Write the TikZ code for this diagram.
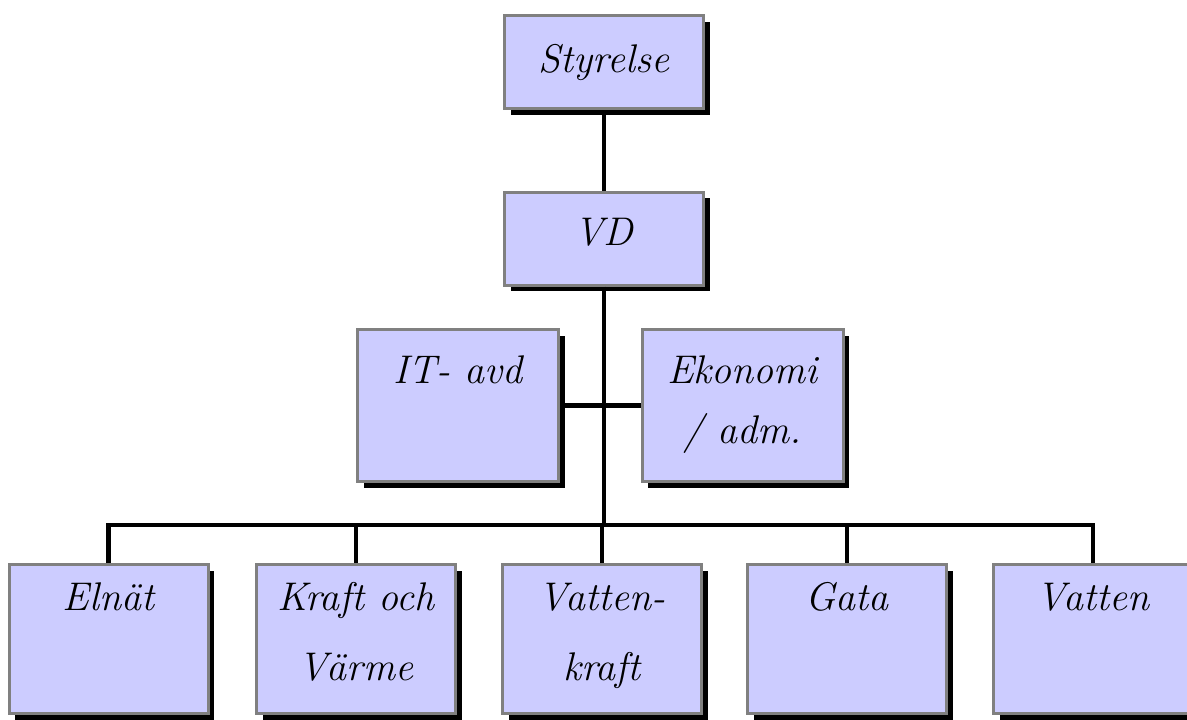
\documentclass[tikz,border=0pt]{standalone}
\usepackage{fontspec}
\usetikzlibrary{shadows}
\definecolor{boxfill}{HTML}{CCCCFF}
\definecolor{boxline}{HTML}{808080}
\tikzset{
  unitbox/.style={draw=boxline, line width=3pt, fill=boxfill, inner sep=0pt,
    minimum width=199pt,
    general shadow={fill=black, draw=none, shadow xshift=6pt, shadow yshift=-6pt}},
  smallbox/.style={unitbox, minimum height=93pt},
  midbox/.style={unitbox, minimum height=152pt, minimum width=201pt},
  lowbox/.style={unitbox, minimum height=149pt},
  lbl/.style={anchor=base, inner sep=0pt, font=\fontsize{40}{44}\selectfont\itshape},
  conn/.style={line width=4.5pt, draw=black}
}
\begin{document}
\begin{tikzpicture}[x=1pt, y=-1pt]
  \useasboundingbox (0,0) rectangle (1187,720);
  \clip (0,0) rectangle (1187,720);

  % management
  \node[smallbox] (sty) at (604,62) {};
  \node[smallbox] (vd)  at (604,238.5) {};

  % staff units
  \node[midbox] (it)  at (458,405.5) {};
  \node[midbox] (eko) at (742.5,405.5) {};

  % business units
  \node[lowbox] (elnat)  at (108.5,639) {};
  \node[lowbox] (kraft)  at (356,639) {};
  \node[lowbox] (vkraft) at (602,639) {};
  \node[lowbox] (gata)   at (847,639) {};
  \node[lowbox] (vatten) at (1093,639) {};

  % labels
  \node[lbl] (tsty)  at (sty.center |- 0,72) {Styrelse};
  \node[lbl] (tvd)   at (vd.center |- 0,245) {VD};
  \node[lbl] (tit)   at (it.center |- 0,383) {IT- avd};
  \node[lbl] (teko1) at (eko.center |- 0,383) {Ekonomi};
  \node[lbl] (teko2) at (eko.center |- 0,443) {/ adm.};
  \node[lbl] (tel)   at (elnat.center |- 0,610) {Elnät};
  \node[lbl] (tkr1)  at (kraft.center |- 0,610) {Kraft och};
  \node[lbl] (tkr2)  at (kraft.center |- 0,680) {Värme};
  \node[lbl] (tvk1)  at (vkraft.center |- 0,610) {Vatten-};
  \node[lbl] (tvk2)  at (vkraft.center |- 0,680) {kraft};
  \node[lbl] (tga)   at (gata.center |- 0,610) {Gata};
  \node[lbl] (tva)   at (vatten.center |- 0,610) {Vatten};

  % connectors
  \coordinate (bus) at (603,525);
  \draw[conn] (sty.south) -- (vd.north);
  \draw[conn] (vd.south) -- (vd.south |- bus);
  \draw[conn] (it.east) -- (eko.west);
  \draw[conn] (elnat.north) -- (elnat.north |- bus) -- (vatten.north |- bus) -- (vatten.north);
  \draw[conn] (kraft.north) -- (kraft.north |- bus);
  \draw[conn] (vkraft.north) -- (vkraft.north |- bus);
  \draw[conn] (gata.north) -- (gata.north |- bus);
\end{tikzpicture}
\end{document}
